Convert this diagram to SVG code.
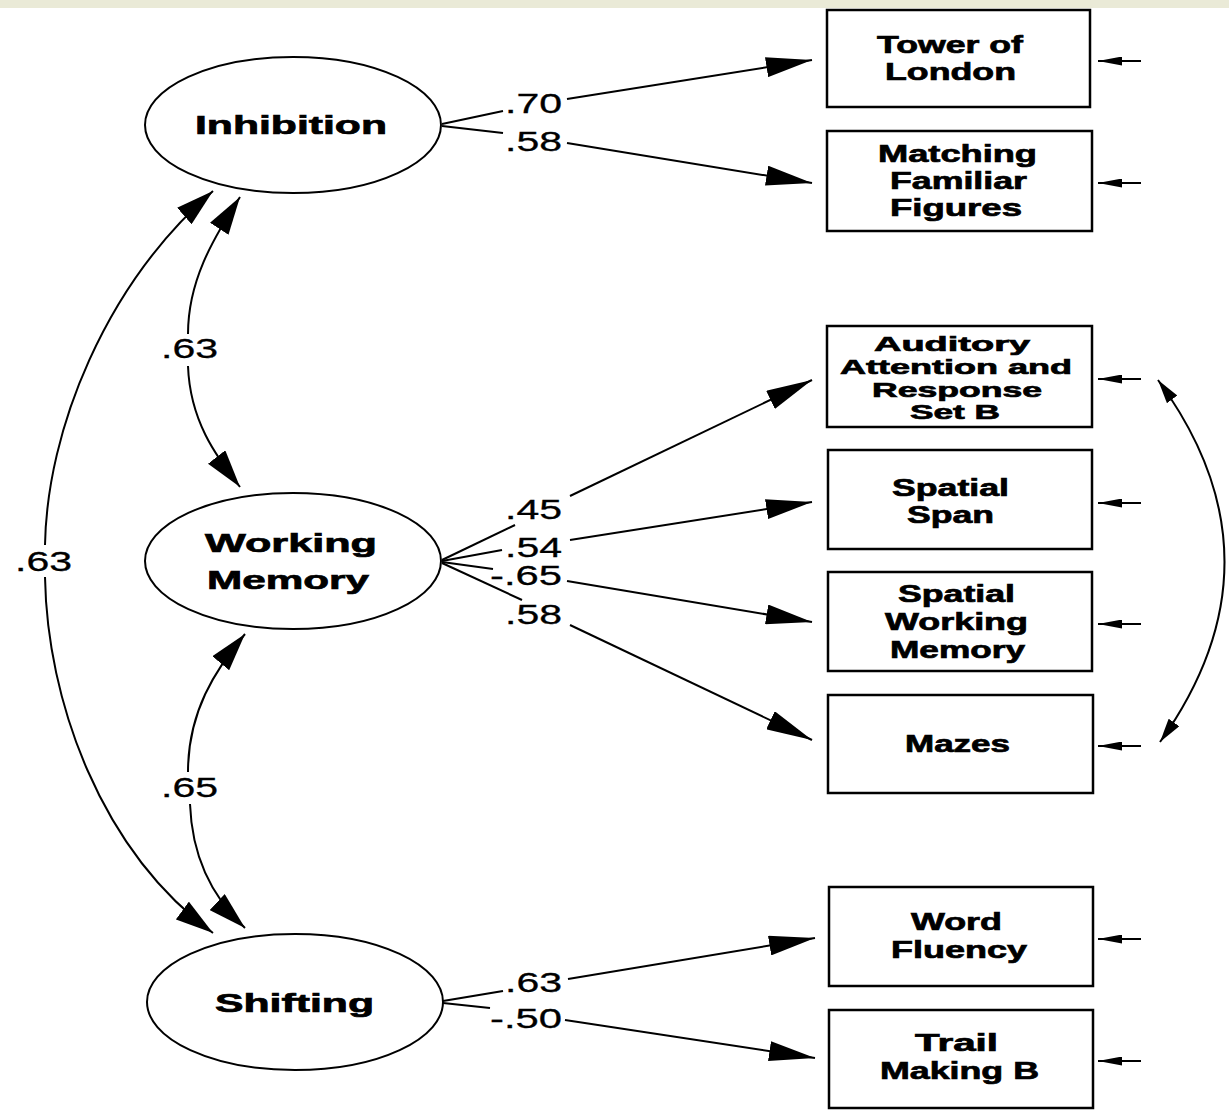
<svg xmlns="http://www.w3.org/2000/svg" width="1229" height="1110" viewBox="0 0 1229 1110">
  <style>
    .latent { fill: #fff; stroke: #000; stroke-width: 2; }
    .obs { fill: #fff; stroke: #000; stroke-width: 2.5; }
    .lbl { font-family: "Liberation Sans", Arial, sans-serif; font-weight: bold; font-size: 24px; fill: #000; stroke: #000; stroke-width: 0.7; }
    .big { font-size: 26px; }
    .tight { font-size: 21px; }
    .coef { font-family: "Liberation Sans", Arial, sans-serif; font-size: 27px; fill: #000; stroke: #000; stroke-width: 0.3; }
    .ln { fill: none; stroke: #000; stroke-width: 2; }
    .thin { fill: none; stroke: #000; stroke-width: 1.8; }
  </style>
  <defs>
    <marker id="head" viewBox="0 0 46 20" refX="46" refY="10" markerWidth="46" markerHeight="20" orient="auto" markerUnits="userSpaceOnUse">
      <path d="M0,0 L46,10 L0,20 z" fill="#000"/>
    </marker>
    <marker id="cov" viewBox="0 0 38 22" refX="38" refY="11" markerWidth="38" markerHeight="22" orient="auto" markerUnits="userSpaceOnUse">
      <path d="M0,0 L38,11 L0,22 z" fill="#000"/>
    </marker>
    <marker id="covs" viewBox="0 0 24 13" refX="24" refY="6.5" markerWidth="24" markerHeight="13" orient="auto-start-reverse" markerUnits="userSpaceOnUse">
      <path d="M0,0 L24,6.5 L0,13 z" fill="#000"/>
    </marker>
    <marker id="err" viewBox="0 0 24 9" refX="24" refY="4.5" markerWidth="24" markerHeight="9" orient="auto" markerUnits="userSpaceOnUse">
      <path d="M0,0 L24,4.5 L0,9 z" fill="#000"/>
    </marker>
  </defs>

  <!-- top band -->
  <rect x="0" y="0" width="1229" height="8" fill="#eaead7"/>

  <!-- latent factors -->
  <g id="inhibition">
    <ellipse class="latent" cx="293" cy="125" rx="148" ry="68"/>
    <text class="lbl big" x="195" y="134" textLength="192" lengthAdjust="spacingAndGlyphs">Inhibition</text>
  </g>
  <g id="working-memory">
    <ellipse class="latent" cx="293" cy="561" rx="148" ry="68"/>
    <text class="lbl big" x="205" y="552" textLength="172" lengthAdjust="spacingAndGlyphs">Working</text>
    <text class="lbl big" x="207" y="589" textLength="162" lengthAdjust="spacingAndGlyphs">Memory</text>
  </g>
  <g id="shifting">
    <ellipse class="latent" cx="295" cy="1002" rx="148" ry="68"/>
    <text class="lbl big" x="215" y="1012" textLength="159" lengthAdjust="spacingAndGlyphs">Shifting</text>
  </g>

  <!-- observed measures -->
  <g id="tower-of-london">
    <rect class="obs" x="827" y="10" width="263" height="97"/>
    <text class="lbl" x="877" y="53" textLength="146" lengthAdjust="spacingAndGlyphs">Tower of</text>
    <text class="lbl" x="885" y="80" textLength="131" lengthAdjust="spacingAndGlyphs">London</text>
  </g>
  <g id="matching-familiar-figures">
    <rect class="obs" x="827" y="131" width="265" height="100"/>
    <text class="lbl" x="878" y="162" textLength="159" lengthAdjust="spacingAndGlyphs">Matching</text>
    <text class="lbl" x="890" y="189" textLength="137" lengthAdjust="spacingAndGlyphs">Familiar</text>
    <text class="lbl" x="890" y="216" textLength="132" lengthAdjust="spacingAndGlyphs">Figures</text>
  </g>
  <g id="auditory-attention">
    <rect class="obs" x="827" y="326" width="265" height="101"/>
    <text class="lbl tight" x="874" y="351" textLength="156" lengthAdjust="spacingAndGlyphs">Auditory</text>
    <text class="lbl tight" x="840" y="374" textLength="232" lengthAdjust="spacingAndGlyphs">Attention and</text>
    <text class="lbl tight" x="872" y="397" textLength="170" lengthAdjust="spacingAndGlyphs">Response</text>
    <text class="lbl tight" x="910" y="419" textLength="90" lengthAdjust="spacingAndGlyphs">Set B</text>
  </g>
  <g id="spatial-span">
    <rect class="obs" x="828" y="450" width="264" height="99"/>
    <text class="lbl" x="892" y="496" textLength="117" lengthAdjust="spacingAndGlyphs">Spatial</text>
    <text class="lbl" x="907" y="523" textLength="87" lengthAdjust="spacingAndGlyphs">Span</text>
  </g>
  <g id="spatial-working-memory">
    <rect class="obs" x="828" y="572" width="264" height="99"/>
    <text class="lbl" x="898" y="602" textLength="117" lengthAdjust="spacingAndGlyphs">Spatial</text>
    <text class="lbl" x="885" y="630" textLength="143" lengthAdjust="spacingAndGlyphs">Working</text>
    <text class="lbl" x="890" y="658" textLength="135" lengthAdjust="spacingAndGlyphs">Memory</text>
  </g>
  <g id="mazes">
    <rect class="obs" x="828" y="695" width="265" height="98"/>
    <text class="lbl" x="905" y="752" textLength="105" lengthAdjust="spacingAndGlyphs">Mazes</text>
  </g>
  <g id="word-fluency">
    <rect class="obs" x="829" y="887" width="264" height="99"/>
    <text class="lbl" x="911" y="930" textLength="91" lengthAdjust="spacingAndGlyphs">Word</text>
    <text class="lbl" x="891" y="958" textLength="136" lengthAdjust="spacingAndGlyphs">Fluency</text>
  </g>
  <g id="trail-making-b">
    <rect class="obs" x="829" y="1010" width="264" height="98"/>
    <text class="lbl" x="915" y="1051" textLength="83" lengthAdjust="spacingAndGlyphs">Trail</text>
    <text class="lbl" x="880" y="1079" textLength="159" lengthAdjust="spacingAndGlyphs">Making B</text>
  </g>

  <!-- connectors -->
  <g id="connectors">
    <!-- factor loadings -->
    <path class="ln" d="M442,124 L503,111"/>
    <path class="ln" d="M567,99 L812,60" marker-end="url(#head)"/>
    <path class="ln" d="M442,126 L503,133"/>
    <path class="ln" d="M567,143 L812,183" marker-end="url(#head)"/>

    <path class="ln" d="M442,560 L515,525"/>
    <path class="ln" d="M570,496 L812,380" marker-end="url(#head)"/>
    <path class="ln" d="M442,561 L502,550"/>
    <path class="ln" d="M570,540 L812,502" marker-end="url(#head)"/>
    <path class="ln" d="M442,562 L493,569"/>
    <path class="ln" d="M567,581 L812,622" marker-end="url(#head)"/>
    <path class="ln" d="M442,563 L522,600"/>
    <path class="ln" d="M570,625 L812,740" marker-end="url(#head)"/>

    <path class="ln" d="M443,1001 L503,991"/>
    <path class="ln" d="M568,979 L815,938" marker-end="url(#head)"/>
    <path class="ln" d="M443,1003 L490,1008"/>
    <path class="ln" d="M565,1020 L815,1058" marker-end="url(#head)"/>

    <!-- factor covariances -->
    <path class="ln" d="M45,545 C47,430 105,285 213,191" marker-end="url(#cov)"/>
    <path class="ln" d="M45,577 C47,700 100,850 213,933" marker-end="url(#cov)"/>
    <path class="ln" d="M188,334 C188,282 212,240 240,197" marker-end="url(#cov)"/>
    <path class="ln" d="M188,366 C190,420 215,455 240,487" marker-end="url(#cov)"/>
    <path class="ln" d="M188,772 C188,712 215,670 245,634" marker-end="url(#cov)"/>
    <path class="ln" d="M190,804 C192,860 215,900 245,928" marker-end="url(#cov)"/>

    <!-- residual covariance -->
    <path class="ln" d="M1158,380 Q1290,560 1160,742" marker-start="url(#covs)" marker-end="url(#covs)"/>

    <!-- residual terms -->
    <path class="thin" d="M1141,61 L1098,61" marker-end="url(#err)"/>
    <path class="thin" d="M1141,183 L1098,183" marker-end="url(#err)"/>
    <path class="thin" d="M1141,379 L1098,379" marker-end="url(#err)"/>
    <path class="thin" d="M1141,503 L1098,503" marker-end="url(#err)"/>
    <path class="thin" d="M1141,624 L1098,624" marker-end="url(#err)"/>
    <path class="thin" d="M1141,746 L1098,746" marker-end="url(#err)"/>
    <path class="thin" d="M1141,939 L1098,939" marker-end="url(#err)"/>
    <path class="thin" d="M1141,1061 L1098,1061" marker-end="url(#err)"/>
  </g>

  <!-- coefficients -->
  <g id="coefficients">
    <text class="coef" x="505" y="113" textLength="57" lengthAdjust="spacingAndGlyphs">.70</text>
    <text class="coef" x="505" y="151" textLength="57" lengthAdjust="spacingAndGlyphs">.58</text>
    <text class="coef" x="505" y="519" textLength="57" lengthAdjust="spacingAndGlyphs">.45</text>
    <text class="coef" x="505" y="557" textLength="57" lengthAdjust="spacingAndGlyphs">.54</text>
    <text class="coef" x="490" y="585" textLength="72" lengthAdjust="spacingAndGlyphs">-.65</text>
    <text class="coef" x="505" y="624" textLength="57" lengthAdjust="spacingAndGlyphs">.58</text>
    <text class="coef" x="505" y="992" textLength="57" lengthAdjust="spacingAndGlyphs">.63</text>
    <text class="coef" x="490" y="1028" textLength="72" lengthAdjust="spacingAndGlyphs">-.50</text>
    <text class="coef" x="15" y="571" textLength="57" lengthAdjust="spacingAndGlyphs">.63</text>
    <text class="coef" x="161" y="358" textLength="57" lengthAdjust="spacingAndGlyphs">.63</text>
    <text class="coef" x="161" y="797" textLength="57" lengthAdjust="spacingAndGlyphs">.65</text>
  </g>
</svg>
